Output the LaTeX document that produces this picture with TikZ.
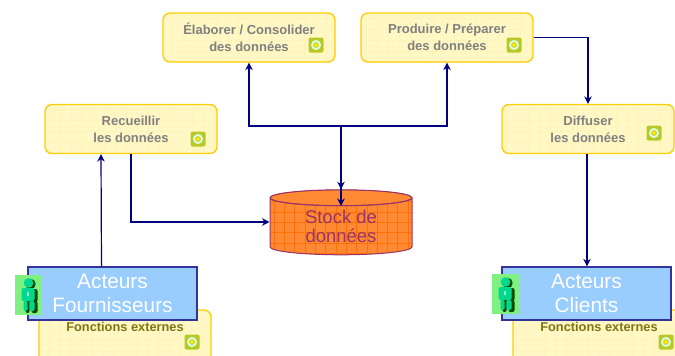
\documentclass[tikz,border=0pt]{standalone}
\usepackage{fontspec}
\setmainfont{Liberation Sans}
\usetikzlibrary{arrows.meta,shapes.geometric}
\definecolor{navyline}{HTML}{000080}
\definecolor{boxfill}{HTML}{FFF7C4}
\definecolor{boxgrid}{HTML}{FFF3BC}
\definecolor{boxline}{HTML}{FFCC00}
\definecolor{stockfill}{HTML}{FF8A33}
\definecolor{stockgrid}{HTML}{FF6A00}
\definecolor{stockline}{HTML}{993366}
\definecolor{actorfill}{HTML}{99CCFF}
\definecolor{actorline}{HTML}{333399}
\definecolor{personfill}{HTML}{80F080}
\definecolor{personbody}{HTML}{00D890}
\tikzset{
  process/.style={draw=boxline,line width=1.3pt,fill=boxfill,rounded corners=7pt,
    minimum width=172pt,minimum height=49pt,align=center,text=black!50,
    font=\bfseries\fontsize{13}{17}\selectfont,inner sep=0pt,
    path picture={\draw[boxgrid,line width=0.4pt,step=11pt]
      (path picture bounding box.south west) grid (path picture bounding box.north east);}},
  external/.style={process,minimum height=60pt},
  actor/.style={draw=actorline,line width=1.3pt,fill=actorfill,minimum width=169pt,
    minimum height=53pt,align=center,text=white,inner sep=0pt,
    font=\fontsize{20.8}{24}\selectfont},
  externaltext/.style={text=olive!85!black,inner sep=0pt,font=\bfseries\fontsize{12.8}{14}\selectfont},
  badge/.style={fill=yellow!80!green!85!black,draw=white!75!yellow,line width=1pt,minimum size=16pt,
    rounded corners=2pt,inner sep=0pt,
    path picture={
      \draw[white!85!green,line width=2pt] (path picture bounding box.center) circle (4pt);
      \fill[yellow!90!orange] (path picture bounding box.center) circle (2pt);}},
  person/.style={fill=personfill,minimum width=27pt,minimum height=40pt,inner sep=0pt,
    path picture={
      \begin{scope}[shift={(path picture bounding box.center)},x=1pt,y=1pt]
        \fill[black!70!green,rounded corners=2pt] (2,11) circle (5.2) (-5,6) rectangle (9,-7) (-3,-6) rectangle (1,-18) (3,-6) rectangle (9,-18);
        \fill[personbody,rounded corners=2pt] (0,12) circle (4.8) (-7,7) rectangle (6,-6) (-5,-6) rectangle (-1,-16) (1,-6) rectangle (6,-16);
        \fill[white!60!personbody] (-0.5,1) ellipse (1 and 2.5);
      \end{scope}}},
  stockdb/.style={cylinder,shape border rotate=90,aspect=0.22,draw=stockline,line width=1pt,
    cylinder uses custom fill,cylinder body fill=stockfill,cylinder end fill=stockfill,
    minimum width=142pt,minimum height=65pt,inner sep=0pt,align=center,text=stockline,
    font=\fontsize{18.5}{19.5}\selectfont,
    path picture={
      \draw[stockgrid!80!stockfill,line width=0.45pt,step=10.3pt]
        (path picture bounding box.south west) grid (path picture bounding box.north east);
      \filldraw[fill=stockfill,draw=stockline,line width=0.8pt]
        ([yshift=-8pt]path picture bounding box.north) ellipse (71pt and 8pt);}},
  flow/.style={navyline,line width=1.2pt,-{Stealth[length=7.5pt,width=7.5pt]}}
}
\begin{document}
\begin{tikzpicture}[x=1pt,y=-1pt]
  \useasboundingbox (0,0) rectangle (675,356);
  \clip (0,0) rectangle (675,356);
  \draw
    (249,37.5) node[process] (elaborer){Élaborer / Consolider\\des données}
    (447,37.5) node[process] (produire){Produire / Préparer\\des données}
    (131,129) node[process] (recueillir){Recueillir\\les données}
    (588,129) node[process] (diffuser){Diffuser\\les données}
    (125,340) node[external] (externeF){}
    (599,340) node[external] (externeC){}
    (112.5,293.5) node[actor] (fournisseurs){Acteurs\\Fournisseurs}
    (586.5,293.5) node[actor] (clients){Acteurs\\Clients}
    (125,327) node[externaltext] (labelF){Fonctions externes}
    (599,327) node[externaltext] (labelC){Fonctions externes}
    (28.5,295) node[person] (personF){}
    (505.5,294) node[person] (personC){}
    (316,45) node[badge] (badgeE){}
    (514,45) node[badge] (badgeP){}
    (198,139) node[badge] (badgeR){}
    (654,133) node[badge] (badgeD){}
    (192,342) node[badge] (badgeF){}
    (666,342) node[badge] (badgeC){}
    (341,226.5) node[stockdb] (stock){Stock de\\données}
    (341,126) coordinate (bus)
    (341,206) coordinate (stocktop);
  \begin{scope}[flow]
    \draw (bus) -- (stock.north);
    \draw (bus) -- (stocktop);
    \draw (bus) -| (elaborer.south);
    \draw (bus) -| (produire.south);
    \draw ([xshift=-11pt]fournisseurs.north) -- ([xshift=-30pt]recueillir.south);
    \draw (recueillir.south) |- ([yshift=4.5pt]stock.west);
    \draw (produire.east) -| (diffuser.north);
    \draw ([xshift=-1pt]diffuser.south) -- ([xshift=-1pt]clients.north -| diffuser.south);
  \end{scope}
\end{tikzpicture}
\end{document}
